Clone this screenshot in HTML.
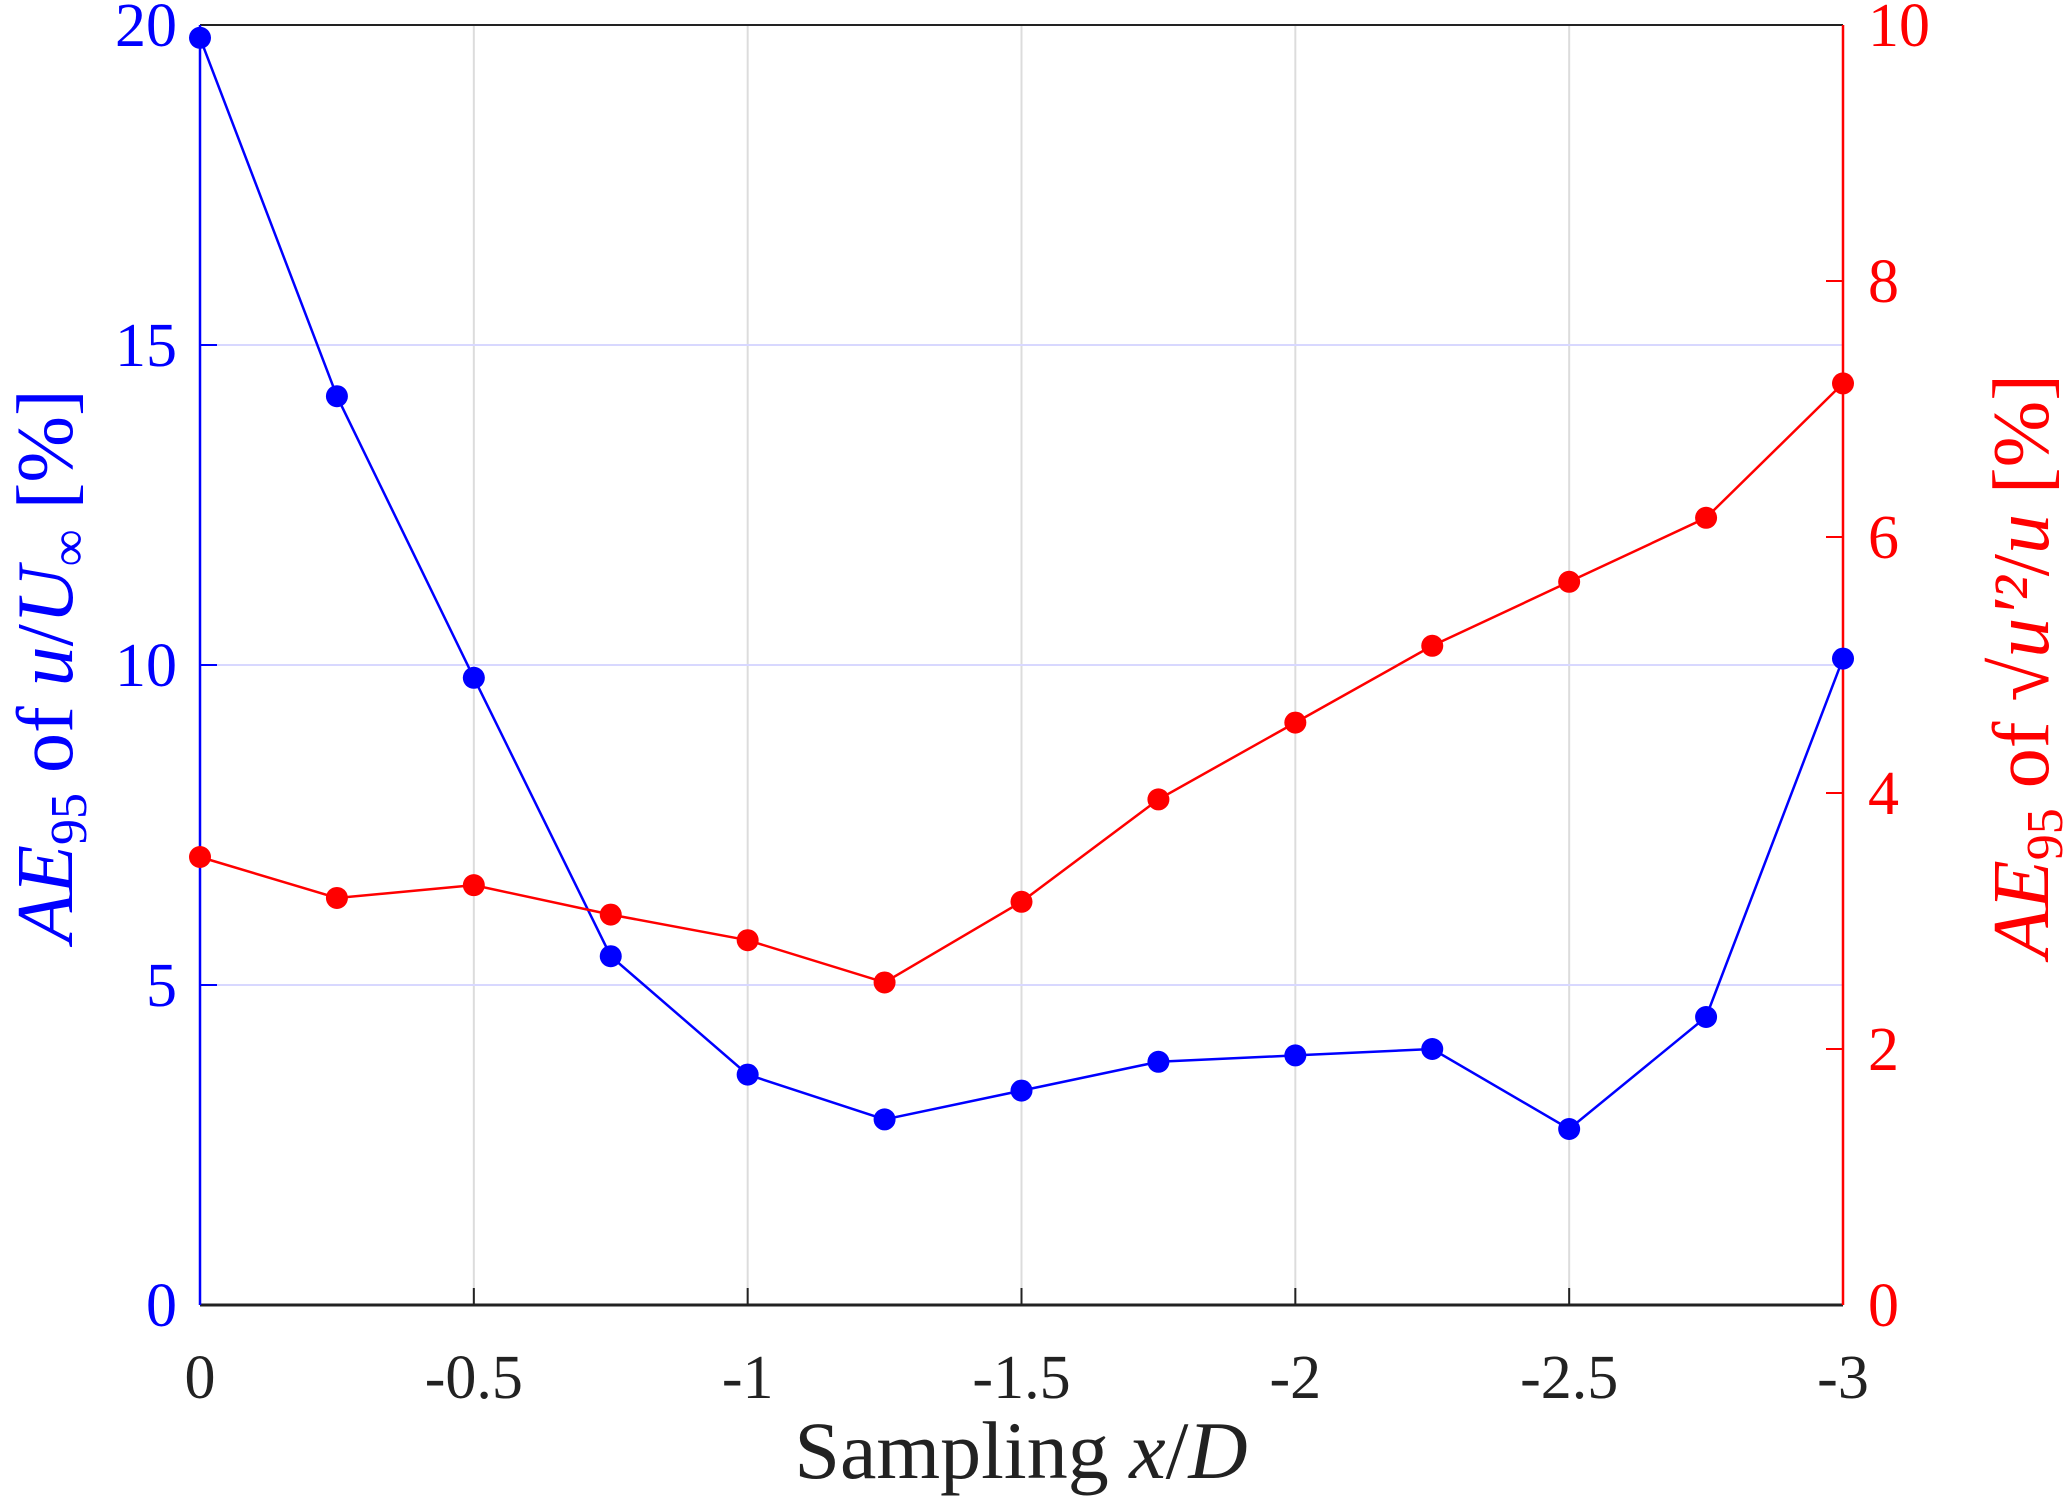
<!DOCTYPE html>
<html><head><meta charset="utf-8"><style>
html,body{margin:0;padding:0;background:#fff;}
svg{display:block;font-family:"Liberation Serif",serif;}
</style></head><body>
<svg id="chart" width="2067" height="1504" viewBox="0 0 2067 1504" xmlns="http://www.w3.org/2000/svg">
<g id="grid" stroke-width="2">
<line x1="473.83" x2="473.83" y1="25" y2="1305" stroke="#dcdcdc"/>
<line x1="747.67" x2="747.67" y1="25" y2="1305" stroke="#dcdcdc"/>
<line x1="1021.5" x2="1021.5" y1="25" y2="1305" stroke="#dcdcdc"/>
<line x1="1295.33" x2="1295.33" y1="25" y2="1305" stroke="#dcdcdc"/>
<line x1="1569.17" x2="1569.17" y1="25" y2="1305" stroke="#dcdcdc"/>
<line x1="200" x2="1843" y1="985" y2="985" stroke="#d8d8ff"/>
<line x1="200" x2="1843" y1="665" y2="665" stroke="#d8d8ff"/>
<line x1="200" x2="1843" y1="345" y2="345" stroke="#d8d8ff"/>
</g>
<g id="axes" font-size="62">
<g stroke="#222" stroke-width="2">
<line x1="473.83" x2="473.83" y1="1305" y2="1288"/>
<line x1="747.67" x2="747.67" y1="1305" y2="1288"/>
<line x1="1021.5" x2="1021.5" y1="1305" y2="1288"/>
<line x1="1295.33" x2="1295.33" y1="1305" y2="1288"/>
<line x1="1569.17" x2="1569.17" y1="1305" y2="1288"/>
</g>
<g fill="#222" text-anchor="middle">
<text x="200" y="1398">0</text>
<text x="473.83" y="1398">-0.5</text>
<text x="747.67" y="1398">-1</text>
<text x="1021.5" y="1398">-1.5</text>
<text x="1295.33" y="1398">-2</text>
<text x="1569.17" y="1398">-2.5</text>
<text x="1843" y="1398">-3</text>
</g>
<g stroke="#0000ff" stroke-width="2">
<line x1="200" x2="217" y1="985" y2="985"/>
<line x1="200" x2="217" y1="665" y2="665"/>
<line x1="200" x2="217" y1="345" y2="345"/>
</g>
<g fill="#0000ff" text-anchor="end">
<text x="177" y="1326">0</text>
<text x="177" y="1006">5</text>
<text x="177" y="686">10</text>
<text x="177" y="366">15</text>
<text x="177" y="46">20</text>
</g>
<g stroke="#ff0000" stroke-width="2">
<line x1="1843" x2="1826" y1="1049" y2="1049"/>
<line x1="1843" x2="1826" y1="793" y2="793"/>
<line x1="1843" x2="1826" y1="537" y2="537"/>
<line x1="1843" x2="1826" y1="281" y2="281"/>
</g>
<g fill="#ff0000" text-anchor="start">
<text x="1868" y="1326">0</text>
<text x="1868" y="1070">2</text>
<text x="1868" y="814">4</text>
<text x="1868" y="558">6</text>
<text x="1868" y="302">8</text>
<text x="1868" y="46">10</text>
</g>
<line x1="200" x2="1843" y1="25" y2="25" stroke="#222" stroke-width="2"/>
<line x1="200" x2="1843" y1="1305" y2="1305" stroke="#222" stroke-width="3"/>
<line x1="200" x2="200" y1="25" y2="1305" stroke="#0000ff" stroke-width="2.5"/>
<line x1="1843" x2="1843" y1="25" y2="1305" stroke="#ff0000" stroke-width="2.5"/>
</g>
<g id="series">
<polyline fill="none" stroke="#0000ff" stroke-width="2.5" points="200,37.8 336.92,396.2 473.83,677.8 610.75,956.2 747.67,1074.6 884.58,1119.4 1021.5,1090.6 1158.42,1061.8 1295.33,1055.4 1432.25,1049 1569.17,1129 1706.08,1017 1843,658.6"/>
<g fill="#0000ff">
<circle cx="200" cy="37.8" r="11"/>
<circle cx="336.92" cy="396.2" r="11"/>
<circle cx="473.83" cy="677.8" r="11"/>
<circle cx="610.75" cy="956.2" r="11"/>
<circle cx="747.67" cy="1074.6" r="11"/>
<circle cx="884.58" cy="1119.4" r="11"/>
<circle cx="1021.5" cy="1090.6" r="11"/>
<circle cx="1158.42" cy="1061.8" r="11"/>
<circle cx="1295.33" cy="1055.4" r="11"/>
<circle cx="1432.25" cy="1049" r="11"/>
<circle cx="1569.17" cy="1129" r="11"/>
<circle cx="1706.08" cy="1017" r="11"/>
<circle cx="1843" cy="658.6" r="11"/>
</g>
<polyline fill="none" stroke="#ff0000" stroke-width="2.5" points="200,857 336.92,898 473.83,885.2 610.75,914.6 747.67,940.2 884.58,982.4 1021.5,901.8 1158.42,799.4 1295.33,722.6 1432.25,645.8 1569.17,581.8 1706.08,517.8 1843,383.4"/>
<g fill="#ff0000">
<circle cx="200" cy="857" r="11"/>
<circle cx="336.92" cy="898" r="11"/>
<circle cx="473.83" cy="885.2" r="11"/>
<circle cx="610.75" cy="914.6" r="11"/>
<circle cx="747.67" cy="940.2" r="11"/>
<circle cx="884.58" cy="982.4" r="11"/>
<circle cx="1021.5" cy="901.8" r="11"/>
<circle cx="1158.42" cy="799.4" r="11"/>
<circle cx="1295.33" cy="722.6" r="11"/>
<circle cx="1432.25" cy="645.8" r="11"/>
<circle cx="1569.17" cy="581.8" r="11"/>
<circle cx="1706.08" cy="517.8" r="11"/>
<circle cx="1843" cy="383.4" r="11"/>
</g>
</g>
<text x="1021" y="1478" text-anchor="middle" font-size="82" fill="#222">Sampling <tspan font-style="italic">x</tspan>/<tspan font-style="italic">D</tspan></text>
<text transform="translate(72,666) rotate(-90)" text-anchor="middle" font-size="80" fill="#0000ff"><tspan font-style="italic">AE</tspan><tspan font-size="52" dy="14">95</tspan><tspan dy="-14"> of </tspan><tspan font-style="italic">u</tspan>/<tspan font-style="italic">U</tspan><tspan font-size="52" dy="14">∞</tspan><tspan dy="-14"> [%]</tspan></text>
<text transform="translate(2048,666) rotate(-90)" text-anchor="middle" font-size="80" fill="#ff0000"><tspan font-style="italic">AE</tspan><tspan font-size="52" dy="14">95</tspan><tspan dy="-14"> of √</tspan><tspan font-style="italic">u′²</tspan>/<tspan font-style="italic">u</tspan><tspan> [%]</tspan></text>
</svg>
<script>
const xValues = [0,-0.25,-0.5,-0.75,-1,-1.25,-1.5,-1.75,-2,-2.25,-2.5,-2.75,-3];
const meanErr = [19.8,14.2,9.8,5.45,3.6,2.9,3.35,3.8,3.9,4.0,2.75,4.5,10.1];
const rmsErr = [3.5,3.18,3.28,3.05,2.85,2.52,3.15,3.95,4.55,5.15,5.65,6.15,7.2];
const xTicks = [0,-0.5,-1,-1.5,-2,-2.5,-3];
const xTickLabels = ["0","-0.5","-1","-1.5","-2","-2.5","-3"];
const yLeftTicks = [0,5,10,15,20];
const yRightTicks = [0,2,4,6,8,10];
(function(){
try{
const L=200,R=1843,T=25,B=1305;
const NS="http://www.w3.org/2000/svg";
function sx(v){return L+(0-v)/3*(R-L);}
function syL(v){return B-v/20*(B-T);}
function syR(v){return B-v/10*(B-T);}
function mk(tag,attrs,parent){const e=document.createElementNS(NS,tag);for(const k in attrs)e.setAttribute(k,attrs[k]);parent.appendChild(e);return e;}
const series=document.getElementById('series');
while(series.firstChild)series.removeChild(series.firstChild);
function drawSeries(vals,sy,color,name){
  const pts=vals.map((v,i)=>sx(xValues[i])+','+sy(v)).join(' ');
  const pl=mk('polyline',{points:pts,fill:'none',stroke:color,'stroke-width':2.5},series);
  
  
  vals.forEach((v,i)=>{
    const c=mk('circle',{cx:sx(xValues[i]),cy:sy(v),r:11,fill:color},series);
    
    
  });
}
drawSeries(meanErr,syL,'#0000ff','mean-error');
drawSeries(rmsErr,syR,'#ff0000','rms-error');
}catch(e){}
})();
</script>
</body></html>
